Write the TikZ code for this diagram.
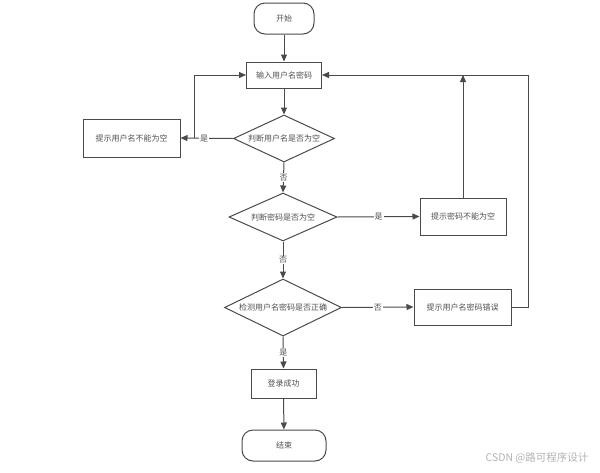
\documentclass[tikz,border=0pt]{standalone}
\usepackage{fontspec}
\setmainfont{Liberation Sans}
\newfontfamily\cjk{Noto Sans CJK SC}
\usetikzlibrary{shapes.geometric,arrows.meta}
\definecolor{ln}{HTML}{4A4A4A}
\definecolor{tx}{HTML}{505050}
\tikzset{
  every node/.style={font=\cjk\fontsize{8}{10}\selectfont, text=tx},
  procbox/.style={draw=ln, line width=1pt, rectangle, minimum width=#1, minimum height=26pt, inner sep=0pt},
  termbox/.style={draw=ln, line width=1pt, rectangle, rounded corners=11pt, minimum width=#1, minimum height=31pt, inner sep=0pt},
  decbox/.style={draw=ln, line width=1pt, diamond, inner sep=0pt, label={center:#1}},
  conn/.style={draw=ln, line width=1pt, -{Triangle[length=7pt,width=6pt]}},
  plain/.style={draw=ln, line width=1pt},
  lbl/.style={fill=white, inner sep=1pt}
}
\begin{document}
\begin{tikzpicture}[x=1pt,y=-1pt]
\useasboundingbox (0,0) rectangle (600,472);
\node[termbox=60pt] (start) at (284,18.5) {开始};
\node[procbox=75pt] (input) at (284,75) {输入用户名密码};
\node[decbox={判断用户名是否为空}, minimum width=101pt, minimum height=47pt] (d1) at (284,138.5) {};
\node[procbox=97pt, minimum height=38pt] (e1) at (131.5,138) {提示用户名不能为空};
\node[decbox={判断密码是否为空}, minimum width=108pt, minimum height=48pt] (d2) at (283,217) {};
\node[procbox=86pt, minimum height=37pt] (e2) at (463,216.5) {提示密码不能为空};
\node[decbox={检测用户名密码是否正确}, minimum width=117pt, minimum height=57pt] (d3) at (283,307.5) {};
\node[procbox=97pt, minimum height=36pt] (e3) at (462.5,307) {提示用户名密码错误};
\node[procbox=65pt, minimum height=29pt] (ok) at (283.5,383.5) {登录成功};
\node[termbox=84pt] (end) at (284,445.5) {结束};
\node[font=\cjk\fontsize{10.5}{12}\selectfont, text=gray!60] (wm) at (537,458) {CSDN @路可程序设计};

\coordinate (j1) at (194,138);
\coordinate (t2) at (463,75);
\coordinate (r3) at (528.5,307);

\draw[conn] (start) -- (input);
\draw[conn] (input) -- (d1);
\draw[conn] (d1.west) -- node[lbl, pos=0.55] {是} (e1.east);
\draw[conn] (j1) |- (input.west);
\draw[conn] (d1.south) -- node[lbl] {否} (d2.north);
\draw[conn] (d2.east) -- node[lbl, pos=0.5] {是} (e2.west);
\draw[conn] (e2.north) -- (t2);
\draw[conn] (d2.south) -- node[lbl] {否} (d3.north);
\draw[conn] (d3.east) -- node[lbl, pos=0.5] {否} (e3.west);
\draw[plain] (e3.east) -- (r3);
\draw[conn] (r3) |- (input.east);
\draw[conn] (d3.south) -- node[lbl] {是} (ok.north);
\draw[conn] (ok) -- (end);
\end{tikzpicture}
\end{document}
